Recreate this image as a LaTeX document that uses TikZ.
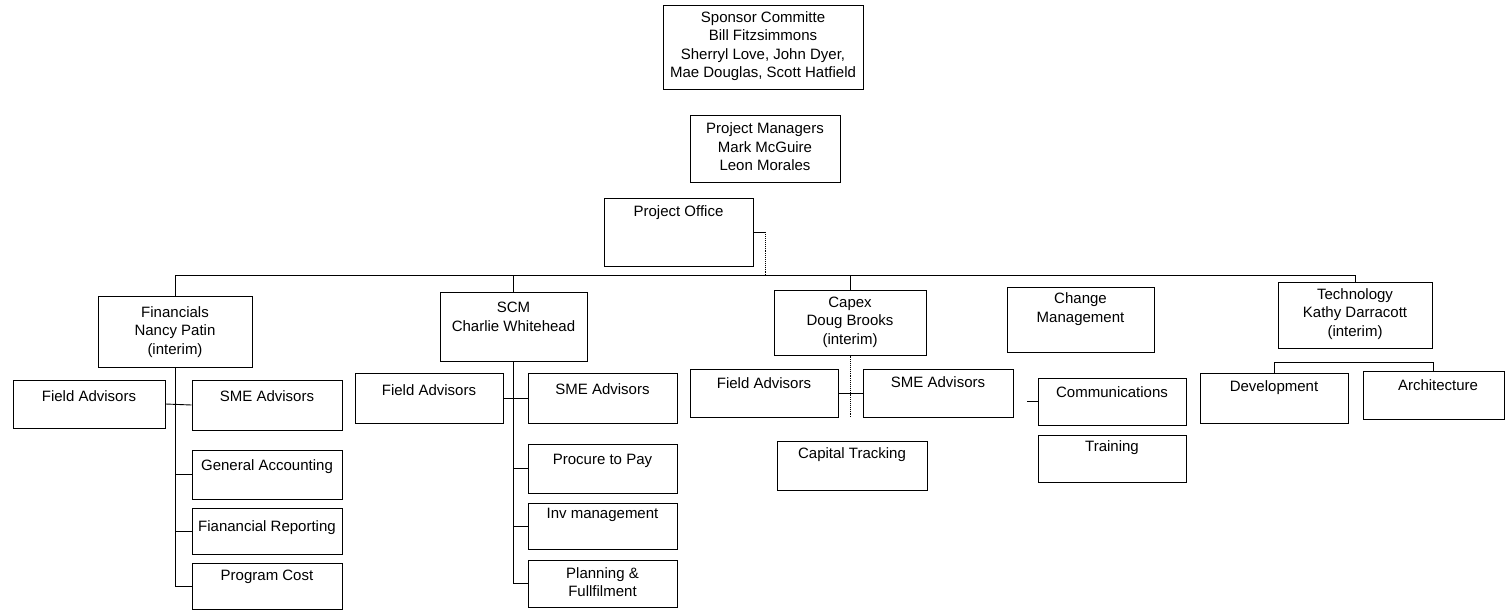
\documentclass[tikz,border=0pt]{standalone}
\usepackage{fontspec}
\setmainfont{Liberation Sans}
\usetikzlibrary{fit,calc}
\tikzset{
  box/.style={draw=black, line width=1pt, inner sep=0pt, fill=none},
  txt/.style={align=center, inner sep=0pt, font=\fontsize{15}{18.5}\selectfont, text=black},
  conn/.style={draw=black, line width=0.9pt},
  faint/.style={draw=black, line width=0.9pt, densely dotted}
}
% name, left, top, right, bottom, text centre y, text
\newcommand\obox[7]{%
  \path (#2,#3) coordinate (#1-nw) (#4,#5) coordinate (#1-se);
  \node[box, fit=(#1-nw)(#1-se)] (#1) {};
  \node[txt] (#1-t) at ({(#2+#4)/2},#6) {#7};}
\begin{document}
\begin{tikzpicture}[x=1pt,y=-1pt]
\useasboundingbox[fill=white] (0,0) rectangle (1506,612);

% top
\obox{sponsor}{663}{6}{863}{90}{46}{Sponsor Committe\\Bill Fitzsimmons\\Sherryl Love, John Dyer,\\Mae Douglas, Scott Hatfield}
\obox{pm}{690}{116}{840}{183}{147}{Project Managers\\Mark McGuire\\Leon Morales}
\obox{office}{604}{199}{753}{266}{213}{Project Office}

% level 2
\obox{fin}{98}{296}{252}{367}{332}{Financials\\Nancy Patin\\(interim)}
\obox{scm}{440}{292}{587}{361}{317}{SCM\\Charlie Whitehead}
\obox{capex}{774}{290}{926}{355}{322}{Capex\\Doug Brooks\\(interim)}
\obox{change}{1007}{287}{1154}{352}{309}{Change\\Management}
\obox{tech}{1278}{282}{1432}{348}{314}{Technology\\Kathy Darracott\\(interim)}

% Financials subtree
\obox{finfield}{13}{380}{165}{428}{396}{Field Advisors}
\obox{finsme}{192}{380}{342}{430}{396}{SME Advisors}
\obox{genacc}{192}{450}{342}{499}{467}{General Accounting}
\obox{finrep}{192}{508}{342}{554}{528}{Fianancial Reporting}
\obox{progcost}{192}{563}{342}{609}{577}{Program Cost}

% SCM subtree
\obox{scmfield}{355}{373}{503}{423}{390}{Field Advisors}
\obox{scmsme}{528}{373}{677}{423}{389}{SME Advisors}
\obox{ptp}{528}{444}{677}{493}{461}{Procure to Pay}
\obox{inv}{528}{503}{677}{549}{515}{Inv  management}
\obox{plan}{528}{560}{677}{607}{582}{Planning \&\\Fullfilment}

% Capex subtree
\obox{capfield}{690}{369}{838}{417}{383}{Field Advisors}
\obox{capsme}{863}{369}{1013}{417}{382}{SME Advisors}
\obox{captrack}{777}{441}{927}{490}{455}{Capital Tracking}

% Change Management subtree
\obox{comm}{1038}{378}{1186}{425}{392}{Communications}
\obox{training}{1038}{435}{1186}{482}{448}{Training}

% Technology subtree
\obox{dev}{1200}{373}{1348}{423}{388}{Development}
\path (1363,371) coordinate (arch-nw) (1504,419) coordinate (arch-se);
\node[box, fit=(arch-nw)(arch-se)] (arch) {};
\node[txt] (arch-t) at (1438,385) {Architecture};

% connectors
\coordinate (bus) at (0,275);
\coordinate (techbar) at (0,362);
\draw[conn] (office.east) -- ++(12,0) coordinate (ojoint);
\draw[faint] (ojoint) -- (ojoint |- bus);
\draw[conn] (fin.north) -- (fin.north |- bus) -- (tech.north |- bus) -- (tech.north);
\draw[conn] (scm.north) -- (scm.north |- bus);
\draw[conn] (capex.north) -- (capex.north |- bus);

\draw[conn] (fin.south) -- (fin.south |- progcost.west) -- (progcost.west);
\draw[conn] (finfield.east) -- (finsme.west);
\draw[conn] (fin.south |- genacc.west) -- (genacc.west);
\draw[conn] (fin.south |- finrep.west) -- (finrep.west);

\draw[conn] (scm.south) -- (scm.south |- plan.west) -- (plan.west);
\draw[conn] (scmfield.east) -- (scmsme.west);
\draw[conn] (scm.south |- ptp.west) -- (ptp.west);
\draw[conn] (scm.south |- inv.west) -- (inv.west);

\draw[conn] (capfield.east) -- (capsme.west);
\draw[faint] (capex.south) -- (capex.south |- capsme.south);

\draw[conn] (comm.west) -- ++(-11,0) coordinate (commstub);

\draw[conn] (dev.north) -- (dev.north |- techbar) -- (arch.north |- techbar) -- (arch.north);
\end{tikzpicture}
\end{document}
